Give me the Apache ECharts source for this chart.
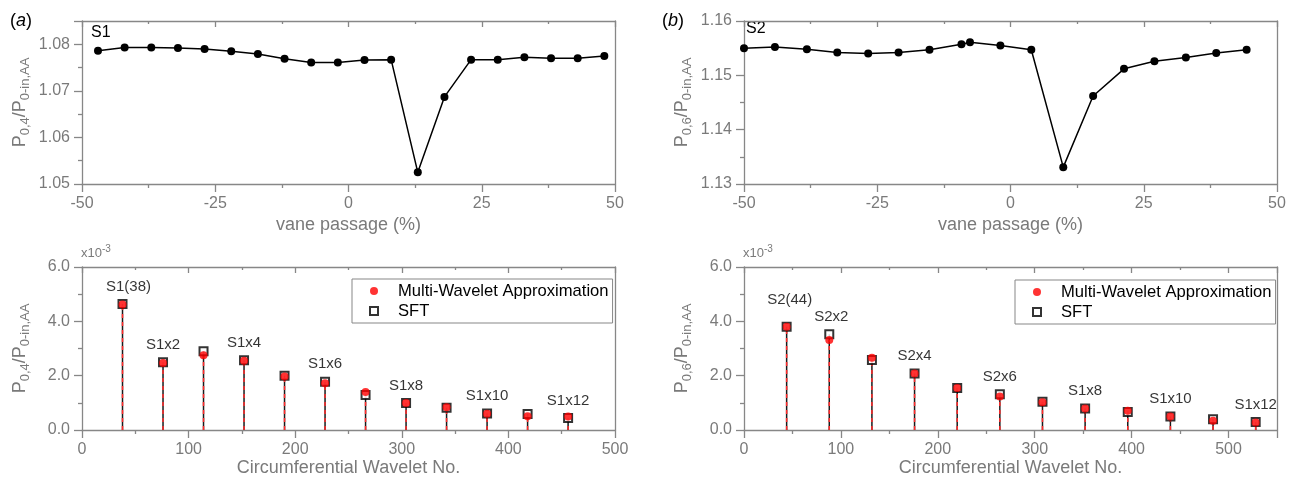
<!DOCTYPE html>
<html>
<head>
<meta charset="utf-8">
<script src="https://cdn.jsdelivr.net/npm/echarts@6/dist/echarts.min.js"></script>
<style>
  html, body { margin: 0; padding: 0; background: #fff; }
  #chart { width: 1295px; height: 482px; }
</style>
</head>
<body>
<div id="chart"></div>
<script>
// Static pressure around the vane passage (top) and its circumferential wavelet spectrum (bottom)
const vaneA_x = [-47, -42, -37, -32, -27, -22, -17, -12, -7, -2, 3, 8, 13, 18, 23, 28, 33, 38, 43, 48];
const vaneA_y = [1.0786, 1.0793, 1.0793, 1.0792, 1.0790, 1.0785, 1.0779, 1.0769, 1.0761, 1.0761,
                 1.0766, 1.0767, 1.0525, 1.0687, 1.0767, 1.0767, 1.0772, 1.0770, 1.0770, 1.0775];

const vaneB_x = [-50.0, -44.2, -38.2, -32.5, -26.7, -21.0, -15.2, -9.2, -7.6, -1.9, 3.9, 9.9,
                 15.5, 21.3, 27.0, 32.9, 38.6, 44.3];
const vaneB_y = [1.1550, 1.1552, 1.1548, 1.1542, 1.1540, 1.1542, 1.1547, 1.1557, 1.1561, 1.1555,
                 1.1547, 1.1331, 1.1462, 1.1512, 1.1526, 1.1533, 1.1541, 1.1547];

// Wavelet numbers and amplitudes (x10^-3)
const waveA = [38, 76, 114, 152, 190, 228, 266, 304, 342, 380, 418, 456];
const mwaA  = [4.62, 2.47, 2.75, 2.55, 1.97, 1.72, 1.40, 0.99, 0.84, 0.60, 0.51, 0.50];
const sftA  = [4.64, 2.49, 2.90, 2.57, 2.00, 1.78, 1.29, 0.99, 0.82, 0.61, 0.59, 0.44];
const labelsA = ['S1(38)', 'S1x2', '', 'S1x4', '', 'S1x6', '', 'S1x8', '', 'S1x10', '', 'S1x12'];

const waveB = [44, 88, 132, 176, 220, 264, 308, 352, 396, 440, 484, 528];
const mwaB  = [3.80, 3.31, 2.66, 2.08, 1.55, 1.23, 1.02, 0.79, 0.71, 0.50, 0.34, 0.28];
const sftB  = [3.80, 3.52, 2.58, 2.08, 1.55, 1.32, 1.04, 0.79, 0.66, 0.50, 0.40, 0.29];
const labelsB = ['S2(44)', 'S2x2', '', 'S2x4', '', 'S2x6', '', 'S1x8', '', 'S1x10', '', 'S1x12'];

const NAME_MWA = 'Multi-Wavelet Approximation';
const NAME_SFT = 'SFT';

const FONT = "'Liberation Sans', Arial, sans-serif";
const GRAY_TEXT = '#7a7a7a';
const GRAY_LINE = '#878787';
const SQUARE = 'path://M0,0L10,0L10,10L0,10Z';

const zip = (xs, ys) => xs.map((x, i) => [x, ys[i]]);

const grids = [
  { left: 82, top: 21, width: 533, height: 163 },
  { left: 744, top: 21, width: 533, height: 163 },
  { left: 82, top: 267, width: 533, height: 163 },
  { left: 744, top: 267, width: 533, height: 163 }
];

function bottomX(grid, min, max, interval, name, nameGap, hideMax) {
  return {
    type: 'value', gridIndex: grid, position: 'bottom', min, max, interval,
    name, nameLocation: 'middle', nameGap,
    nameTextStyle: { fontFamily: FONT, fontSize: 18, color: GRAY_TEXT },
    axisLine: { show: true, onZero: false, lineStyle: { color: GRAY_LINE, width: 1.3 } },
    axisTick: { show: true, inside: false, length: 8, lineStyle: { color: GRAY_LINE, width: 1.3 } },
    minorTick: { show: true, splitNumber: 2, length: 4, lineStyle: { color: GRAY_LINE, width: 1.3 } },
    axisLabel: {
      fontFamily: FONT, fontSize: 16, color: GRAY_TEXT, margin: 12,
      formatter: v => (hideMax && v === max) ? '' : String(v)
    },
    splitLine: { show: false }
  };
}

function topX(grid, min, max, interval) {
  return {
    type: 'value', gridIndex: grid, position: 'top', min, max, interval,
    axisLine: { show: true, onZero: false, lineStyle: { color: GRAY_LINE, width: 1.3 } },
    axisTick: { show: true, inside: true, length: 6, lineStyle: { color: GRAY_LINE, width: 1.3 } },
    minorTick: { show: true, splitNumber: 2, length: 3, lineStyle: { color: GRAY_LINE, width: 1.3 } },
    axisLabel: { show: false },
    splitLine: { show: false }
  };
}

function leftY(grid, min, max, interval, digits, nameRich, hideMax) {
  return {
    type: 'value', gridIndex: grid, position: 'left', min, max, interval,
    name: nameRich, nameLocation: 'middle', nameGap: 50,
    nameTextStyle: {
      fontFamily: FONT, fontSize: 18, color: GRAY_TEXT,
      rich: { s: { fontFamily: FONT, fontSize: 13, color: GRAY_TEXT, padding: [10, 0, 0, 0] } }
    },
    axisLine: { show: true, onZero: false, lineStyle: { color: GRAY_LINE, width: 1.3 } },
    axisTick: { show: true, inside: false, length: 8, lineStyle: { color: GRAY_LINE, width: 1.3 } },
    minorTick: { show: true, splitNumber: 2, length: 4, lineStyle: { color: GRAY_LINE, width: 1.3 } },
    axisLabel: {
      fontFamily: FONT, fontSize: 16, color: GRAY_TEXT, margin: 12,
      formatter: v => (hideMax && Math.abs(v - max) < 1e-9) ? '' : v.toFixed(digits)
    },
    splitLine: { show: false }
  };
}

function rightY(grid, min, max) {
  return {
    type: 'value', gridIndex: grid, position: 'right', min, max,
    axisLine: { show: true, onZero: false, lineStyle: { color: GRAY_LINE, width: 1.3 } },
    axisTick: { show: false }, axisLabel: { show: false }, splitLine: { show: false }
  };
}

const xAxis = [
  bottomX(0, -50, 50, 25, 'vane passage (%)', 32, false),
  bottomX(1, -50, 50, 25, 'vane passage (%)', 32, false),
  bottomX(2, 0, 500, 100, 'Circumferential Wavelet No.', 28, false),
  bottomX(3, 0, 550, 100, 'Circumferential Wavelet No.', 28, true),
  topX(0, -50, 50, 25),
  topX(1, -50, 50, 25),
  topX(2, 0, 500, 100),
  topX(3, 0, 550, 100)
];

const yAxis = [
  leftY(0, 1.05, 1.085, 0.01, 2, 'P{s|0,4}/P{s|0-in,AA}', true),
  leftY(1, 1.13, 1.16, 0.01, 2, 'P{s|0,6}/P{s|0-in,AA}', false),
  leftY(2, 0, 6, 2, 1, 'P{s|0,4}/P{s|0-in,AA}', false),
  leftY(3, 0, 6, 2, 1, 'P{s|0,6}/P{s|0-in,AA}', false),
  rightY(0, 1.05, 1.085),
  rightY(1, 1.13, 1.16),
  rightY(2, 0, 6),
  rightY(3, 0, 6)
];

function lineSeries(axis, xs, ys) {
  return {
    type: 'line', xAxisIndex: axis, yAxisIndex: axis,
    data: zip(xs, ys),
    symbol: 'circle', symbolSize: 8, showSymbol: true,
    lineStyle: { color: '#000', width: 1.5 },
    itemStyle: { color: '#000' },
    animation: false, silent: true
  };
}

// Vertical stems from zero to each amplitude, positioned through the axes
function stemSeries(axis, xs, ys, stroke, width, dash, z) {
  return {
    type: 'custom', xAxisIndex: axis, yAxisIndex: axis,
    data: zip(xs, ys), z,
    encode: { x: 0, y: 1 },
    renderItem: (params, api) => {
      const p0 = api.coord([api.value(0), 0]);
      const p1 = api.coord([api.value(0), api.value(1)]);
      return {
        type: 'line',
        shape: { x1: p0[0], y1: p0[1], x2: p1[0], y2: p1[1] },
        style: { stroke, lineWidth: width, lineDash: dash }
      };
    },
    animation: false, silent: true
  };
}

function sftSeries(axis, xs, ys, labels, offsets) {
  return {
    type: 'scatter', name: NAME_SFT, xAxisIndex: axis, yAxisIndex: axis, z: 3,
    data: xs.map((x, i) => ({
      value: [x, ys[i]],
      label: offsets[i] ? { offset: offsets[i] } : undefined
    })),
    symbol: 'rect', symbolSize: 8,
    itemStyle: { color: '#fff', borderColor: '#000', borderWidth: 2 },
    label: {
      show: true, position: 'top', distance: 5,
      fontFamily: FONT, fontSize: 15, color: '#000',
      formatter: p => labels[p.dataIndex]
    },
    animation: false, silent: true
  };
}

function mwaSeries(axis, xs, ys) {
  return {
    type: 'scatter', name: NAME_MWA, xAxisIndex: axis, yAxisIndex: axis, z: 4,
    data: zip(xs, ys),
    symbol: 'circle', symbolSize: 8,
    itemStyle: { color: '#ff0000' },
    animation: false, silent: true
  };
}

const series = [
  lineSeries(0, vaneA_x, vaneA_y),
  lineSeries(1, vaneB_x, vaneB_y),
  stemSeries(2, waveA, sftA, '#1a1a1a', 1.5, null, 1),
  stemSeries(2, waveA, mwaA, '#ff2a2a', 1.5, [4, 4], 2),
  sftSeries(2, waveA, sftA, labelsA, { 0: [6, 0] }),
  mwaSeries(2, waveA, mwaA),
  stemSeries(3, waveB, sftB, '#1a1a1a', 1.5, null, 1),
  stemSeries(3, waveB, mwaB, '#ff2a2a', 1.5, [4, 4], 2),
  sftSeries(3, waveB, sftB, labelsB, { 0: [3, -9], 1: [2, 0] }),
  mwaSeries(3, waveB, mwaB)
];

function legendAt(left, top) {
  return {
    data: [{ name: NAME_MWA, icon: 'circle' }, { name: NAME_SFT, icon: SQUARE }],
    orient: 'vertical', left, top,
    selectedMode: false, symbolKeepAspect: true,
    itemWidth: 38, itemHeight: 8, itemGap: 2,
    padding: [3, 4, 3, 17],
    borderColor: GRAY_LINE, borderWidth: 1,
    textStyle: { fontFamily: FONT, fontSize: 16.6, color: '#000', lineHeight: 18 }
  };
}

function text(left, top, str, style) {
  return { type: 'text', left, top, style: Object.assign({ text: str, font: '16px ' + FONT, fill: '#000' }, style) };
}

const expRich = { sup: { fontFamily: FONT, fontSize: 10, fill: GRAY_TEXT, padding: [0, 0, 9, 0] } };
const tagRich = { i: { fontFamily: FONT, fontSize: 18, fontStyle: 'italic', fill: '#000' } };

const graphic = [
  { type: 'text', left: 10, top: 12, style: { text: '({i|a})', font: '18px ' + FONT, fill: '#000', rich: tagRich } },
  { type: 'text', left: 662, top: 12, style: { text: '({i|b})', font: '18px ' + FONT, fill: '#000', rich: tagRich } },
  text(91, 25, 'S1'),
  text(746, 21, 'S2'),
  { type: 'text', left: 81, top: 244, style: { text: 'x10{sup|-3}', font: '13px ' + FONT, fill: GRAY_TEXT, rich: expRich } },
  { type: 'text', left: 743, top: 244, style: { text: 'x10{sup|-3}', font: '13px ' + FONT, fill: GRAY_TEXT, rich: expRich } }
];

const chart = echarts.init(document.getElementById('chart'), null, { renderer: 'canvas' });
chart.setOption({
  backgroundColor: '#fff',
  animation: false,
  grid: grids,
  xAxis, yAxis, series,
  legend: [legendAt(352, 279), legendAt(1015, 280)],
  graphic
});
</script>
</body>
</html>
